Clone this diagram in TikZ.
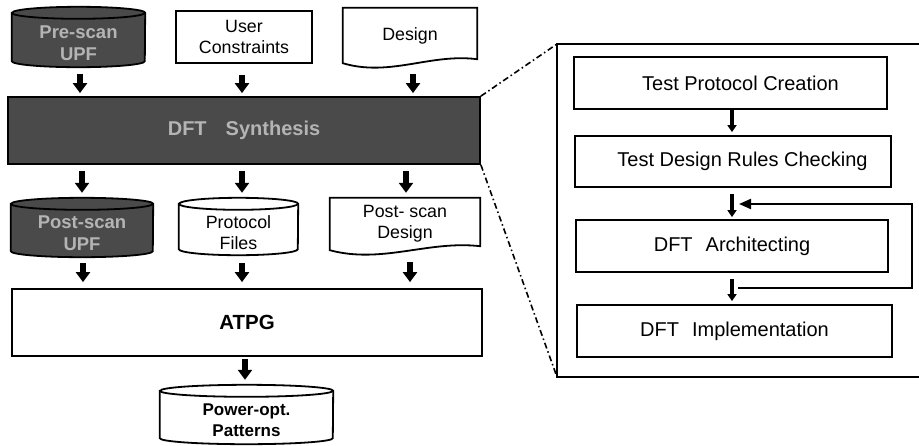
\documentclass[tikz,border=0pt]{standalone}
\usepackage{fontspec}
\setmainfont{Liberation Sans}
\usetikzlibrary{arrows.meta,backgrounds,calc}
\definecolor{dk}{HTML}{4A4A4A}
\definecolor{lt}{HTML}{B4B4B4}
\tikzset{
 box/.style={draw, line width=1.8pt, inner sep=0pt, align=center},
 darkbox/.style={box, fill=dk, text=lt, font=\fontsize{20}{24}\selectfont\bfseries},
 whitebold/.style={box, font=\fontsize{20.5}{24}\selectfont\bfseries},
 plain/.style={inner sep=0pt, align=center, font=\fontsize{17.8}{21}\selectfont},
 boldlt/.style={inner sep=0pt, align=center, text=lt, font=\fontsize{18.5}{22}\selectfont\bfseries},
 boldbk/.style={inner sep=0pt, align=center, font=\fontsize{17}{21}\selectfont\bfseries},
 stepbox/.style={box, font=\fontsize{20}{24}\selectfont},
 arr/.style={line width=5.5pt, -{Triangle[width=14pt,length=10pt]}},
 sarr/.style={line width=3.5pt, -{Triangle[width=9pt,length=7pt]}},
 fb/.style={line width=2pt, -{Triangle[width=10pt,length=12pt]}},
 dd/.style={line width=1.6pt, dash pattern=on 6pt off 3pt on 1.5pt off 3pt},
 shp/.style={line width=1.8pt, draw=black},
}
\newcommand\cylshape[3]{%
  \path[shp, fill=#3] ([yshift=6pt]#1.north west) -- ([yshift=6pt]#1.south west)
    arc[start angle=180, end angle=360, x radius=#2, y radius=6pt]
    -- ([yshift=6pt]#1.north east)
    arc[start angle=0, end angle=180, x radius=#2, y radius=6pt] -- cycle;
  \draw[shp] ([yshift=6pt]#1.north west) arc[start angle=180, end angle=360, x radius=#2, y radius=6pt];
}
\newcommand\docshape[2]{%
  \path[shp, fill=white] (#1.north west) -- (#1.south west)
    .. controls +(#2,14) and +(-#2,-6) .. ([yshift=4pt]#1.south east)
    -- (#1.north east) -- cycle;
}
\begin{document}
\begin{tikzpicture}[x=1pt,y=-1pt]
\useasboundingbox (0,0) rectangle (919,445);
% left column nodes
\node[boldlt, minimum width=133pt, minimum height=48pt] (prescan) at (78.5,43) {Pre-scan\\UPF};
\node[box, plain, minimum width=136pt, minimum height=52pt] (user) at (244,37) {User\\Constraints};
\node[plain, minimum width=134pt, minimum height=55pt] (design) at (410,35.5) {Design};
\node[darkbox, minimum width=472pt, minimum height=67pt] (synth) at (244,130.5) {DFT\hspace{19pt}Synthesis};
\node[boldlt, minimum width=142pt, minimum height=47pt] (postupf) at (82,233.5) {Post-scan\\UPF};
\node[plain, minimum width=119pt, minimum height=45pt] (protocol) at (238.5,232.5) {Protocol\\Files};
\node[plain, minimum width=150pt, minimum height=52pt] (postdesign) at (405,224) {Post- scan\\Design};
\node[whitebold, minimum width=470pt, minimum height=67pt] (atpg) at (247,322.5) {ATPG};
\node[boldbk, minimum width=173pt, minimum height=47pt] (power) at (246.5,420.5) {Power-opt.\\Patterns};
\begin{scope}[on background layer]
\cylshape{prescan}{66.5pt}{dk}
\cylshape{postupf}{71pt}{dk}
\cylshape{protocol}{59.5pt}{white}
\cylshape{power}{86.5pt}{white}
\docshape{design}{47}
\docshape{postdesign}{52}
\end{scope}
% arrow columns
\coordinate (a1) at (80,0);
\coordinate (a2) at (242,0);
\coordinate (a3) at (413,0);
\coordinate (b1) at (82,0);
\coordinate (b3) at (406,0);
\coordinate (c1) at (83,0);
\coordinate (c3) at (410,0);
\coordinate (d1) at (245,0);
\draw[arr, shorten <=7pt, shorten >=3pt] (prescan.south -| a1) -- (synth.north -| a1);
\draw[arr, shorten <=11pt, shorten >=3pt] (user.south -| a2) -- (synth.north -| a2);
\draw[arr, shorten <=11pt, shorten >=3pt] (design.south -| a3) -- (synth.north -| a3);
\draw[arr, shorten <=6pt, shorten >=5pt] (synth.south -| b1) -- ([yshift=12pt]postupf.north -| b1);
\draw[arr, shorten <=6pt, shorten >=5pt] (synth.south -| a2) -- ([yshift=12pt]protocol.north -| a2);
\draw[arr, shorten <=6pt, shorten >=5pt] (synth.south -| b3) -- (postdesign.north -| b3);
\draw[arr, shorten <=6pt, shorten >=6pt] (postupf.south -| c1) -- (atpg.north -| c1);
\draw[arr, shorten <=8pt, shorten >=6pt] (protocol.south -| a2) -- (atpg.north -| a2);
\draw[arr, shorten <=12pt, shorten >=6pt] (postdesign.south -| c3) -- (atpg.north -| c3);
\draw[arr, shorten <=2pt, shorten >=5pt] (atpg.south -| d1) -- ([yshift=12pt]power.north -| d1);
% right panel
\coordinate (onw) at (557,44);
\coordinate (osw) at (557,377);
\coordinate (one) at (922,44);
\coordinate (ose) at (922,377);
\draw[shp] (one) -- (onw) -- (osw) -- (ose);
\draw[dd] (synth.north east) -- (onw);
\draw[dd] (synth.south east) -- (osw);
\node[stepbox, minimum width=313pt, minimum height=52pt] (tpc) at (730.5,83) {\hspace*{20pt}Test Protocol Creation};
\node[stepbox, minimum width=316pt, minimum height=51pt] (tdrc) at (733,161.5) {\hspace*{19pt}Test Design Rules Checking};
\node[stepbox, minimum width=312pt, minimum height=52pt] (arch) at (732,246) {DFT\hspace{13pt}Architecting};
\node[stepbox, minimum width=315pt, minimum height=52pt] (impl) at (734.5,331) {DFT\hspace{13pt}Implementation};
\coordinate (rc) at (732,0);
\draw[sarr, shorten >=3pt] (tpc.south -| rc) -- (tdrc.north -| rc);
\draw[sarr, shorten <=6pt, shorten >=2pt] (tdrc.south -| rc) -- (arch.north -| rc);
\draw[sarr, shorten <=6pt, shorten >=3pt] (arch.south -| rc) -- (impl.north -| rc);
\coordinate (fbs) at (738,288);
\coordinate (fbc) at (912,204);
\coordinate (fbe) at (739,204);
\draw[fb] (fbs) -| (fbc) -- (fbe);
\end{tikzpicture}
\end{document}
